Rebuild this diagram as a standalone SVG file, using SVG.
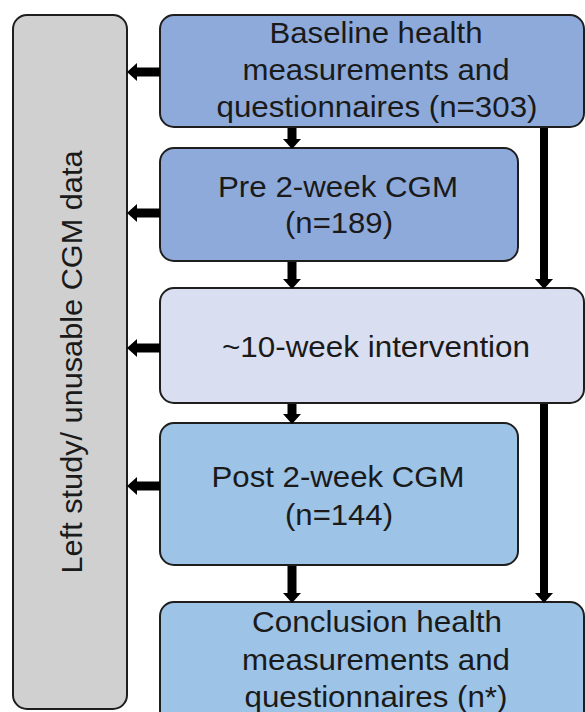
<svg xmlns="http://www.w3.org/2000/svg" width="585" height="712" viewBox="0 0 585 712">
<style>
.box{stroke:#1e1e1e;stroke-width:2}
.dark{fill:#8eaadb}
.light{fill:#d9dff1}
.sky{fill:#9dc3e6}
.gray{fill:#d0d0d0}
text{font-family:"Liberation Sans",Arial,sans-serif;font-size:29px;fill:#1a1a1a;text-anchor:middle}
.arr{stroke:#000;stroke-width:9;fill:none;marker-end:url(#head)}
.arrv{stroke:#000;stroke-width:8;fill:none;marker-end:url(#head)}
</style>
<defs>
<marker id="head" markerUnits="userSpaceOnUse" viewBox="0 0 10 18" refX="0" refY="9" markerWidth="10" markerHeight="18" orient="auto">
<path d="M0,0 L10,9 L0,18 z" fill="#000"/>
</marker>
</defs>
<rect width="585" height="712" fill="#fff"/>
<g id="left-study">
<rect class="box gray" x="13" y="15" width="114" height="694" rx="14"/>
<text transform="translate(82,362) rotate(-90)" textLength="423" lengthAdjust="spacingAndGlyphs">Left study/ unusable CGM data</text>
</g>
<g id="baseline">
<rect class="box dark" x="160" y="15" width="424" height="112" rx="14"/>
<text x="376" y="43" textLength="213" lengthAdjust="spacingAndGlyphs">Baseline health</text>
<text x="376" y="80" textLength="267" lengthAdjust="spacingAndGlyphs">measurements and</text>
<text x="377" y="117" textLength="321" lengthAdjust="spacingAndGlyphs">questionnaires (n=303)</text>
</g>
<g id="pre">
<rect class="box dark" x="160" y="148" width="358" height="113" rx="14"/>
<text x="338" y="197" textLength="240" lengthAdjust="spacingAndGlyphs">Pre 2-week CGM</text>
<text x="339" y="233" textLength="108" lengthAdjust="spacingAndGlyphs">(n=189)</text>
</g>
<g id="intervention">
<rect class="box light" x="160" y="288" width="424" height="115" rx="14"/>
<text x="376" y="357" textLength="308" lengthAdjust="spacingAndGlyphs">~10-week intervention</text>
</g>
<g id="post">
<rect class="box sky" x="160" y="423" width="358" height="142" rx="14"/>
<text x="338" y="487" textLength="253" lengthAdjust="spacingAndGlyphs">Post 2-week CGM</text>
<text x="339" y="525" textLength="108" lengthAdjust="spacingAndGlyphs">(n=144)</text>
</g>
<g id="conclusion">
<rect class="box sky" x="160" y="602" width="424" height="130" rx="14"/>
<text x="377" y="632" textLength="250" lengthAdjust="spacingAndGlyphs">Conclusion health</text>
<text x="376" y="670" textLength="268" lengthAdjust="spacingAndGlyphs">measurements and</text>
<text x="376" y="707" textLength="263" lengthAdjust="spacingAndGlyphs">questionnaires (n*)</text>
</g>
<g id="connectors">
<line class="arr" x1="160" y1="72" x2="137" y2="72"/>
<line class="arr" x1="160" y1="213" x2="137" y2="213"/>
<line class="arr" x1="160" y1="348" x2="137" y2="348"/>
<line class="arr" x1="160" y1="486" x2="137" y2="486"/>
<line class="arr" x1="292" y1="128" x2="292" y2="139"/>
<line class="arr" x1="292" y1="262" x2="292" y2="279"/>
<line class="arr" x1="292" y1="404" x2="292" y2="414"/>
<line class="arr" x1="292" y1="566" x2="292" y2="593"/>
<line class="arrv" x1="544" y1="128" x2="544" y2="279"/>
<line class="arrv" x1="544" y1="404" x2="544" y2="593"/>
</g>
</svg>
